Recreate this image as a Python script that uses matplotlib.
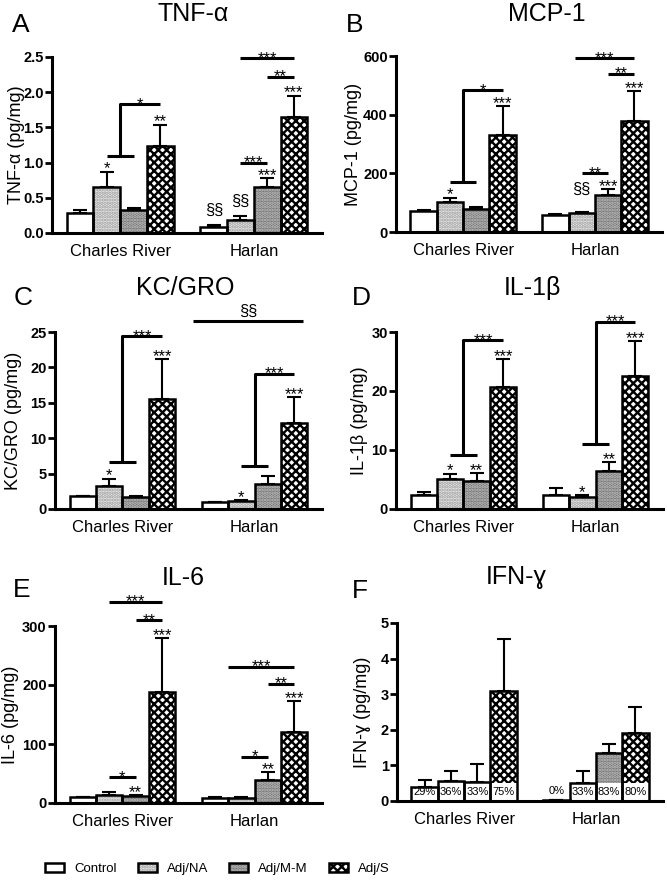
import matplotlib
matplotlib.use('Agg')
import matplotlib.pyplot as plt
from matplotlib.patches import Patch
from matplotlib.legend_handler import HandlerTuple

plt.rcParams['font.family'] = ['Liberation Sans', 'DejaVu Sans']
plt.rcParams['hatch.linewidth'] = 1.7

strains = ['Charles River', 'Harlan']
treatments = ['Control', 'Adj/NA', 'Adj/M-M', 'Adj/S']

# means per strain (Control, Adj/NA, Adj/M-M, Adj/S) and upper SEM
tnf_mean = [[0.29, 0.65, 0.33, 1.23], [0.09, 0.19, 0.66, 1.65]]
tnf_err = [[0.04, 0.22, 0.03, 0.31], [0.03, 0.05, 0.12, 0.30]]
mcp_mean = [[70, 103, 79, 330], [59, 64, 127, 378]]
mcp_err = [[4, 14, 6, 100], [3, 4, 19, 103]]
kc_mean = [[1.8, 3.3, 1.7, 15.6], [0.94, 1.2, 3.6, 12.2]]
kc_err = [[0.1, 1.0, 0.1, 5.6], [0.06, 0.1, 1.1, 3.6]]
il1_mean = [[2.4, 5.0, 4.7, 20.7], [2.4, 2.1, 6.5, 22.5]]
il1_err = [[0.4, 1.0, 1.4, 4.7], [1.1, 0.3, 1.4, 6.0]]
il6_mean = [[9.6, 14, 12.4, 188], [8.5, 9, 39.5, 120]]
il6_err = [[1.1, 4.6, 1.1, 92], [1.1, 1.0, 13, 53]]
ifn_mean = [[0.38, 0.57, 0.53, 3.1], [0.03, 0.50, 1.34, 1.9]]
ifn_err = [[0.21, 0.26, 0.51, 1.46], [0.0, 0.33, 0.26, 0.75]]
ifn_pct = [['29%', '36%', '33%', '75%'], ['0%', '33%', '83%', '80%']]

# significance marks above bars: (strain, treatment, text)
tnf_marks = [(0, 1, '*'), (0, 3, '**'), (1, 0, '§§'), (1, 1, '§§'), (1, 2, '***'), (1, 3, '***')]
mcp_marks = [(0, 1, '*'), (0, 3, '***'), (1, 1, '§§'), (1, 2, '***'), (1, 3, '***')]
kc_marks = [(0, 1, '*'), (0, 3, '***'), (1, 1, '*'), (1, 3, '***')]
il1_marks = [(0, 1, '*'), (0, 2, '**'), (0, 3, '***'), (1, 1, '*'), (1, 2, '**'), (1, 3, '***')]
il6_marks = [(0, 2, '**'), (0, 3, '***'), (1, 2, '**'), (1, 3, '***')]

# comparison lines: (strain, from bar, to bar, y, text)
tnf_lines = [(1, 1, 3, 2.48, '***'), (1, 2, 3, 2.22, '**'), (1, 1, 2, 1.0, '***')]
mcp_lines = [(1, 0.75, 3, 593, '***'), (1, 2, 3, 539, '**'), (1, 1, 2, 201, '**')]
kc_lines = [(1, -0.83, 3.35, 26.6, '§§')]
il6_lines = [(0, 1, 3, 341, '***'), (0, 2, 3, 310, '**'), (0, 1, 2, 44, '*'),
             (1, 0.5, 3, 231, '***'), (1, 2, 3, 202, '**'), (1, 1, 2, 78, '*')]

# brackets (Adj/NA + Adj/M-M vs Adj/S): (strain, low y, high y, text)
tnf_brackets = [(0, 1.10, 1.83, '*')]
mcp_brackets = [(0, 172, 484, '*')]
kc_brackets = [(0, 6.6, 24.4, '***'), (1, 6.1, 19.1, '***')]
il1_brackets = [(0, 9.1, 28.6, '***'), (1, 11.0, 31.7, '***')]

W, H = 667, 884
w = 0.2
styles = [dict(color='white', hatch=None, edgecolor='white'),
          dict(color='#ececec', hatch='.....', edgecolor='#9a9a9a'),
          dict(color='#6e6e6e', hatch='.....', edgecolor='#c4c4c4'),
          dict(color='white', hatch='xxxx', edgecolor='black')]


def bx(g, i):
    return g + (i - 1.5) * w


def box(l, t, r, b):
    return [l / W, 1 - b / H, (r - l) / W, (b - t) / H]


def panel(rect, means, errs, ylim, ticks, labels, ylabel, labx):
    ax = fig.add_axes(box(*rect))
    for i in range(4):
        xs = [bx(g, i) for g in range(2)]
        hs = [means[g][i] for g in range(2)]
        es = [errs[g][i] for g in range(2)]
        ax.bar(xs, hs, w, linewidth=0, zorder=2, **styles[i])
        ax.bar(xs, hs, w, fill=False, edgecolor='black', linewidth=1.8, zorder=3)
        ax.errorbar(xs, hs, yerr=[[0, 0], es], fmt='none', ecolor='black',
                    elinewidth=1.5, capsize=5, capthick=1.5, zorder=1.5)
    ax.set_xlim(-0.51, 1.51)
    ax.set_ylim(*ylim)
    for s in ['top', 'right']:
        ax.spines[s].set_visible(False)
    for s in ['left', 'bottom']:
        ax.spines[s].set_linewidth(2.2)
    ax.set_yticks(ticks, labels, fontweight='bold', fontsize=10.5)
    ax.tick_params(axis='y', direction='out', length=5, width=2, pad=1)
    ax.set_xticks([0, 1], strains, fontsize=12)
    ax.tick_params(axis='x', length=0, pad=8)
    ax.set_ylabel(ylabel, fontsize=13)
    ax.yaxis.label.set_verticalalignment('center')
    ax.yaxis.set_label_coords(labx, 0.5)
    return ax


def marks(ax, means, errs, items, sec_off=5):
    for g, i, t in items:
        off = sec_off if '§' in t else -3.5
        ax.annotate(t, (bx(g, i), means[g][i] + errs[g][i]), xytext=(0, off),
                    textcoords='offset points', ha='center', va='bottom', fontsize=12)


def lines(ax, items):
    for g, i0, i1, y, t in items:
        x0, x1 = bx(g, i0), bx(g, i1)
        ax.plot([x0, x1], [y, y], color='black', lw=2.2, clip_on=False, solid_capstyle='butt')
        off = 1.5 if '§' in t else -5.5
        ax.annotate(t, ((x0 + x1) / 2, y), xytext=(0, off), textcoords='offset points',
                    ha='center', va='bottom', fontsize=12, annotation_clip=False)


def brackets(ax, items):
    for g, y0, y1, t in items:
        ax.plot([bx(g, 1), bx(g, 2)], [y0, y0], color='black', lw=2.2, clip_on=False, solid_capstyle='butt')
        ax.plot([g, g, bx(g, 3)], [y0, y1, y1], color='black', lw=2.2, clip_on=False, solid_capstyle='butt')
        ax.annotate(t, ((g + bx(g, 3)) / 2, y1), xytext=(0, -5.5), textcoords='offset points',
                    ha='center', va='bottom', fontsize=12, annotation_clip=False)


fig = plt.figure(figsize=(W / 100, H / 100), dpi=100)

axA = panel((52, 57, 322, 233), tnf_mean, tnf_err, (0, 2.5), [0, 0.5, 1, 1.5, 2, 2.5],
            ['0.0', '0.5', '1.0', '1.5', '2.0', '2.5'], 'TNF-α (pg/mg)', -0.133)
axB = panel((396, 56, 662, 232), mcp_mean, mcp_err, (0, 600), [0, 200, 400, 600],
            ['0', '200', '400', '600'], 'MCP-1 (pg/mg)', -0.16)
axC = panel((55, 332, 322, 509), kc_mean, kc_err, (0, 25), [0, 5, 10, 15, 20, 25],
            ['0', '5', '10', '15', '20', '25'], 'KC/GRO (pg/mg)', -0.154)
axD = panel((396, 332, 663, 509), il1_mean, il1_err, (0, 30), [0, 10, 20, 30],
            ['0', '10', '20', '30'], 'IL-1β (pg/mg)', -0.135)
axE = panel((55, 626, 322, 803), il6_mean, il6_err, (0, 300), [0, 100, 200, 300],
            ['0', '100', '200', '300'], 'IL-6 (pg/mg)', -0.165)
axF = panel((397, 623, 663, 801), ifn_mean, ifn_err, (0, 5), [0, 1, 2, 3, 4, 5],
            ['0', '1', '2', '3', '4', '5'], 'IFN-ɣ (pg/mg)', -0.13)

marks(axA, tnf_mean, tnf_err, tnf_marks)
marks(axB, mcp_mean, mcp_err, mcp_marks, sec_off=11)
marks(axC, kc_mean, kc_err, kc_marks)
marks(axD, il1_mean, il1_err, il1_marks)
marks(axE, il6_mean, il6_err, il6_marks)
lines(axA, tnf_lines)
lines(axB, mcp_lines)
lines(axC, kc_lines)
lines(axE, il6_lines)
brackets(axA, tnf_brackets)
brackets(axB, mcp_brackets)
brackets(axC, kc_brackets)
brackets(axD, il1_brackets)

# IFN-g: detection rate inside the bars
for g in range(2):
    for i in range(4):
        h = min(ifn_mean[g][i], 0.5)
        if ifn_mean[g][i] > 0.1:
            axF.bar(bx(g, i), h, w, color='white', linewidth=0, zorder=2.5)
            axF.text(bx(g, i), 0.25, ifn_pct[g][i], ha='center', va='center', fontsize=8, zorder=4)
        else:
            axF.text(bx(g, i), 0.27, ifn_pct[g][i], ha='center', va='center', fontsize=8, zorder=4)

# panel titles and letters
titles = [('TNF-α', 193, 14), ('MCP-1', 547, 14), ('KC/GRO', 185, 288),
          ('IL-1β', 532, 288), ('IL-6', 183, 578), ('IFN-ɣ', 516, 577)]
letters = [('A', 12, 32), ('B', 346, 32), ('C', 14, 305), ('D', 352, 305), ('E', 13, 597), ('F', 352, 598)]
for t, x, y in titles:
    fig.text(x / W, 1 - y / H, t, ha='center', va='center', fontsize=18)
for t, x, y in letters:
    fig.text(x / W, 1 - y / H, t, ha='left', va='baseline', fontsize=19)

handles = []
for st in styles:
    face = Patch(facecolor=st['color'], hatch=st['hatch'], edgecolor=st['edgecolor'], linewidth=0)
    edge = Patch(fill=False, edgecolor='black', linewidth=1.8)
    handles.append((face, edge))
fig.legend(handles, treatments, handler_map={tuple: HandlerTuple(ndivide=1)},
           loc='center left', bbox_to_anchor=(45 / W, 1 - 869 / H), ncol=4, frameon=False,
           fontsize=9.5, handlelength=1.45, handleheight=0.65, handletextpad=0.75,
           columnspacing=1.6, borderaxespad=0, borderpad=0)

fig.savefig('out.png', dpi=100)
